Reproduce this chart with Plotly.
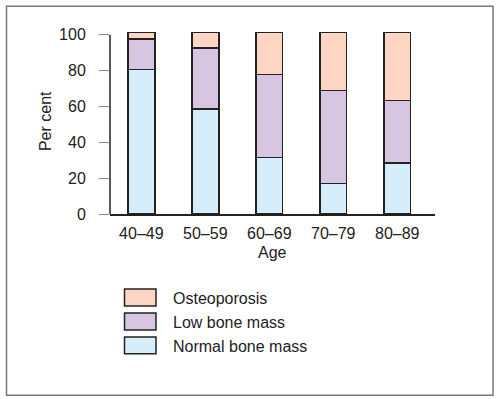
import plotly.graph_objects as go

categories = ["40–49", "50–59", "60–69", "70–79", "80–89"]
normal_bone_mass = [80.8, 58.7, 31.5, 17.1, 28.5]
low_bone_mass = [17.0, 34.0, 46.3, 51.8, 35.0]
osteoporosis = [3.6, 8.7, 23.6, 32.5, 37.9]
y_ticks = [0, 20, 40, 60, 80, 100]

series = [
    ("Normal bone mass", normal_bone_mass, "#d5eef9"),
    ("Low bone mass", low_bone_mass, "#d8c5e1"),
    ("Osteoporosis", osteoporosis, "#fdd6c3"),
]

FONT = "Liberation Sans, Arial, sans-serif"
FS = 16
W, H = 500, 399
YMAX = 101.6
L, R, B = 110, 435, 214
T = B - YMAX * 1.793  # plot area top in pixels

def px(x):
    return (x - L) / (R - L)

def py(y):
    return (B - y) / (B - T)

fig = go.Figure()
for name, vals, col in series:
    fig.add_trace(go.Bar(
        x=categories, y=vals, name=name, width=0.42,
        marker=dict(color=col, line=dict(color="#222222", width=1.5)),
        showlegend=False, hoverinfo="skip",
    ))

shapes = [
    dict(type="rect", xref="paper", yref="paper",
         x0=px(6.5), x1=px(493), y0=py(6), y1=py(395.5),
         line=dict(color="#777777", width=1.5), fillcolor="rgba(0,0,0,0)", layer="below"),
    # y axis line, only from 0 to 100
    dict(type="line", xref="paper", yref="y", x0=0, x1=0, y0=0, y1=100,
         line=dict(color="#222222", width=1.5)),
]
annotations = []
legend_rows = [("Osteoporosis", "#fdd6c3", 297.5), ("Low bone mass", "#d8c5e1", 321.5), ("Normal bone mass", "#d5eef9", 345.5)]
for name, col, yc in legend_rows:
    shapes.append(dict(type="rect", xref="paper", yref="paper",
                       x0=px(124.5), x1=px(156), y0=py(yc - 8.5), y1=py(yc + 8.5),
                       line=dict(color="#222222", width=1.5), fillcolor=col))
    annotations.append(dict(xref="paper", yref="paper", x=px(171), y=py(yc + 1),
                            text=name, showarrow=False, xanchor="left", yanchor="middle",
                            font=dict(family=FONT, size=FS, color="#222222")))

annotations.append(dict(xref="paper", yref="paper", x=px(272), y=py(252.5), text="Age",
                        showarrow=False, xanchor="center", yanchor="middle",
                        font=dict(family=FONT, size=FS, color="#222222")))
annotations.append(dict(xref="paper", yref="paper", x=px(45), y=py(121), text="Per cent",
                        showarrow=False, xanchor="center", yanchor="middle", textangle=-90,
                        font=dict(family=FONT, size=FS, color="#222222")))

fig.update_layout(
    barmode="stack",
    width=W, height=H,
    margin=dict(l=L, r=W - R, t=T, b=H - B, pad=0),
    paper_bgcolor="white", plot_bgcolor="white",
    font=dict(family=FONT, size=FS, color="#222222"),
    shapes=shapes, annotations=annotations,
    xaxis=dict(range=[-0.49, 4.59], showline=True, linecolor="#222222", linewidth=1.5,
               ticks="", showgrid=False, zeroline=False, fixedrange=True,
               tickfont=dict(size=FS, color="#222222"), ticklabelstandoff=4),
    yaxis=dict(range=[0, YMAX], tickvals=y_ticks, showline=False,
               ticks="outside", ticklen=10, tickcolor="#888888", tickwidth=1.2,
               showgrid=False, zeroline=False, fixedrange=True,
               tickfont=dict(size=FS, color="#222222"), ticklabelstandoff=10),
)

fig.write_html("out.html", config={"displayModeBar": False},
               post_script="document.body.style.margin='0';document.body.style.padding='0';")
